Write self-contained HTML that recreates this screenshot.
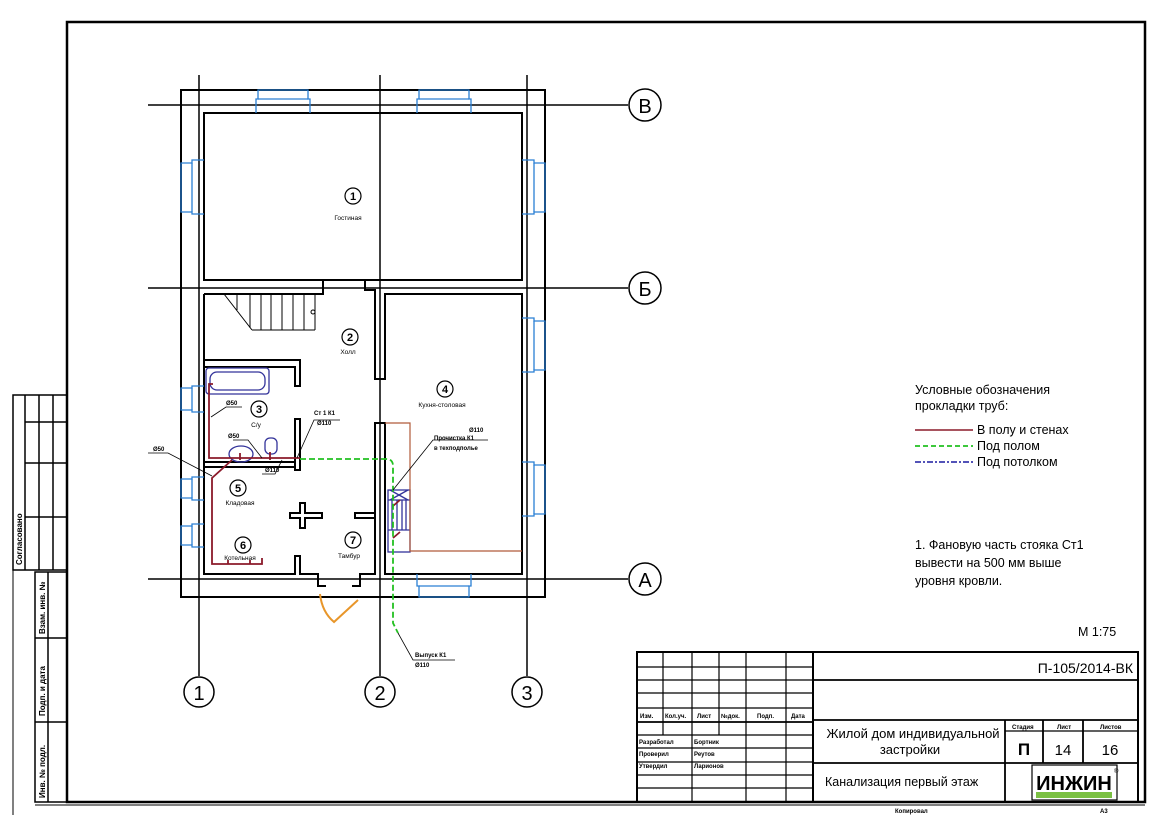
<!DOCTYPE html>
<html><head><meta charset="utf-8"><style>
html,body{margin:0;padding:0;background:#fff}
svg{display:block}
text{font-family:"Liberation Sans",sans-serif;fill:#000}
.b{font-weight:bold}
</style></head><body>
<svg width="1166" height="824" viewBox="0 0 1166 824" xmlns="http://www.w3.org/2000/svg">
<rect width="1166" height="824" fill="#fff"/>
<!-- frame -->
<rect x="67" y="22" width="1078" height="780" fill="none" stroke="#000" stroke-width="2.5"/>
<!-- left strip -->
<g stroke="#000" fill="none" stroke-width="1.5">
<rect x="13" y="395" width="54" height="175"/>
<line x1="25" y1="395" x2="25" y2="570"/><line x1="39" y1="395" x2="39" y2="570"/><line x1="53" y1="395" x2="53" y2="570"/>
<line x1="25" y1="422" x2="67" y2="422"/><line x1="25" y1="463" x2="67" y2="463"/><line x1="25" y1="517" x2="67" y2="517"/>
<rect x="35" y="572" width="32" height="230"/>
<line x1="48" y1="572" x2="48" y2="802"/>
<line x1="35" y1="638" x2="67" y2="638"/><line x1="35" y1="722" x2="67" y2="722"/>
<line x1="13" y1="570" x2="13" y2="815" stroke-width="1"/>
<line x1="35" y1="805" x2="1145" y2="805" stroke-width="1"/>
</g>
<g font-size="8" class="b">
<text transform="translate(22,565) rotate(-90)">Согласовано</text>
<text transform="translate(45,634) rotate(-90)">Взам. инв. №</text>
<text transform="translate(45,716) rotate(-90)">Подп. и дата</text>
<text transform="translate(45,798) rotate(-90)">Инв. № подл.</text>
</g>

<!-- axes -->
<g stroke="#000" stroke-width="1.5" fill="none">
<line x1="199" y1="75" x2="199" y2="676"/>
<line x1="380" y1="75" x2="380" y2="676"/>
<line x1="527" y1="75" x2="527" y2="676"/>
<line x1="148" y1="105" x2="628" y2="105"/>
<line x1="148" y1="288" x2="628" y2="288"/>
<line x1="148" y1="579" x2="628" y2="579"/>
<circle cx="199" cy="692" r="15"/><circle cx="380" cy="692" r="15"/><circle cx="527" cy="692" r="15"/>
<circle cx="645" cy="105" r="16"/><circle cx="645" cy="288" r="16"/><circle cx="645" cy="579" r="16"/>
</g>
<g font-size="20" text-anchor="middle">
<text x="199" y="700">1</text><text x="380" y="700">2</text><text x="527" y="700">3</text>
<text x="645" y="113">В</text><text x="645" y="296">Б</text><text x="645" y="587">А</text>
</g>

<!-- walls -->
<g stroke="#000" stroke-width="2" fill="none">
<rect x="181" y="90" width="364" height="507"/>
<rect x="204" y="113" width="318" height="167"/>
<!-- hall/stairs region -->
<path d="M204 294 H323 V280"/>
<path d="M365 280 V290 H375 V379 H385 V294 H522 V574 H385 V423 H375 V574 H360 V586 H352"/>
<path d="M204 294 V574 H295 V556 H300 V574 H318 V586 H326"/>
<!-- bathroom -->
<path d="M204 360 H300 V386 H295 V367 H204"/>
<path d="M295 419 H300 V470 H295 Z"/>
<path d="M204 462 H295 M204 467 H295"/>
<!-- cross -->
<path d="M290 513 H300 V503 H305 V513 H322 V518 H305 V528 H300 V518 H290 Z"/>
<path d="M355 513 H375 V518 H355 Z"/>
</g>
<!-- stairs -->
<g stroke="#000" stroke-width="1" fill="none">
<line x1="224" y1="294" x2="252" y2="330"/>
<line x1="252" y1="330" x2="315" y2="330"/>
<line x1="237" y1="294" x2="237" y2="310"/><line x1="250" y1="294" x2="250" y2="328"/>
<line x1="261" y1="294" x2="261" y2="330"/><line x1="271" y1="294" x2="271" y2="330"/>
<line x1="282" y1="294" x2="282" y2="330"/><line x1="293" y1="294" x2="293" y2="330"/>
<line x1="304" y1="294" x2="304" y2="330"/><line x1="315" y1="294" x2="315" y2="330"/>
<circle cx="313" cy="312" r="2"/>
</g>
<!-- windows -->
<g stroke="#2a7fd4" stroke-width="1.3" fill="none">
<path d="M256 113 V99 H258 V90 H308 V99 H310 V113"/><line x1="258" y1="99" x2="308" y2="99"/>
<path d="M417 113 V99 H419 V90 H469 V99 H471 V113"/><line x1="419" y1="99" x2="469" y2="99"/>
<path d="M204 160 H192 V163 H181 V212 H192 V214 H204"/><line x1="192" y1="163" x2="192" y2="212"/>
<path d="M522 160 H534 V163 H545 V212 H534 V214 H522"/><line x1="534" y1="163" x2="534" y2="212"/>
<path d="M522 318 H534 V321 H545 V370 H534 V372 H522"/><line x1="534" y1="321" x2="534" y2="370"/>
<path d="M522 462 H534 V465 H545 V514 H534 V516 H522"/><line x1="534" y1="465" x2="534" y2="514"/>
<path d="M204 386 H192 V388 H181 V410 H192 V412 H204"/><line x1="192" y1="388" x2="192" y2="410"/>
<path d="M204 477 H192 V479 H181 V498 H192 V500 H204"/><line x1="192" y1="479" x2="192" y2="498"/>
<path d="M204 524 H192 V526 H181 V545 H192 V547 H204"/><line x1="192" y1="526" x2="192" y2="545"/>
<path d="M417 574 V586 H419 V597 H469 V586 H471 V574"/><line x1="419" y1="586" x2="469" y2="586"/>
</g>
<!-- fixtures -->
<g stroke="#33339a" stroke-width="1.3" fill="none">
<rect x="206" y="368" width="63" height="26" rx="3"/>
<rect x="210" y="372" width="55" height="18" rx="7"/>
<ellipse cx="241" cy="454" rx="12" ry="8"/>
<rect x="265" y="438" width="12" height="16" rx="5"/>
<rect x="388" y="490" width="22" height="62"/>
<line x1="388" y1="500" x2="410" y2="500"/><line x1="388" y1="530" x2="410" y2="530"/>
<line x1="392" y1="500" x2="392" y2="530"/><line x1="397" y1="500" x2="397" y2="530"/><line x1="402" y1="500" x2="402" y2="530"/><line x1="406" y1="500" x2="406" y2="530"/>
<line x1="390" y1="490" x2="408" y2="500"/><line x1="408" y1="490" x2="390" y2="500"/>
</g>
<!-- kitchen counter -->
<path d="M385 423 H410 V551 H522" stroke="#b05a3a" stroke-width="1.2" fill="none"/>
<!-- door -->
<path d="M320 594 Q322 612 334 622 L358 600" stroke="#e8962a" stroke-width="2" fill="none"/>
<!-- red pipes -->
<g stroke="#8b1a2a" stroke-width="1.8" fill="none">
<path d="M213 384 H209 V458 H300"/>
<path d="M232 460 L212 478 V564 H262 V558"/>
<path d="M240 460 V453"/><path d="M270 460 V452"/>
<path d="M228 564 V560 M250 564 V560"/>
<path d="M400 500 L393 506"/><path d="M400 532 L393 538"/>
</g>
<!-- green -->
<path d="M300 459 H386 Q393 459 393 466 V623 L398 633" stroke="#22c020" stroke-width="1.8" stroke-dasharray="6,3" fill="none"/>
<!-- leaders -->
<g stroke="#000" stroke-width="0.8" fill="none">
<path d="M211 417 L226 407 H242"/>
<path d="M233 440 H248 L262 458"/>
<path d="M148 453 H168 L212 476"/>
<path d="M297 458 L314 420 H340"/>
<path d="M262 474 H275 L282 460"/>
<path d="M393 490 L433 440 H488"/>
<path d="M398 633 L413 660 H455"/>
</g>
<g font-size="6" class="b">
<text x="226" y="405">Ø50</text>
<text x="228" y="438">Ø50</text>
<text x="153" y="451">Ø50</text>
<text x="314" y="415">Ст 1 К1</text><text x="317" y="425">Ø110</text>
<text x="265" y="472">Ø110</text>
<text x="469" y="432">Ø110</text><text x="434" y="440">Прочистка К1</text><text x="434" y="450">в техподполье</text>
<text x="415" y="657">Выпуск К1</text><text x="415" y="667">Ø110</text>
</g>
<!-- room labels -->
<g stroke="#000" stroke-width="1.2" fill="none">
<circle cx="353" cy="196" r="8"/><circle cx="350" cy="337" r="8"/><circle cx="445" cy="389" r="8"/>
<circle cx="259" cy="409" r="8"/><circle cx="238" cy="488" r="8"/><circle cx="243" cy="545" r="8"/><circle cx="353" cy="540" r="8"/>
</g>
<g font-size="11" text-anchor="middle" class="b">
<text x="353" y="200">1</text><text x="350" y="341">2</text><text x="445" y="393">4</text>
<text x="259" y="413">3</text><text x="238" y="492">5</text><text x="243" y="549">6</text><text x="353" y="544">7</text>
</g>
<g font-size="6.5" text-anchor="middle">
<text x="348" y="220">Гостиная</text><text x="348" y="354">Холл</text><text x="442" y="407">Кухня-столовая</text>
<text x="256" y="427">С/у</text><text x="240" y="505">Кладовая</text><text x="240" y="560">Котельная</text><text x="349" y="558">Тамбур</text>
</g>

<!-- legend -->
<g font-size="12.5">
<text x="915" y="394">Условные обозначения</text>
<text x="915" y="410">прокладки труб:</text>
<text x="977" y="434">В полу и стенах</text>
<text x="977" y="450">Под полом</text>
<text x="977" y="466">Под потолком</text>
<text x="915" y="549">1. Фановую часть стояка Ст1</text>
<text x="915" y="567">вывести на 500 мм выше</text>
<text x="915" y="585">уровня кровли.</text>
<text x="1078" y="636">М 1:75</text>
</g>
<line x1="915" y1="430" x2="973" y2="430" stroke="#8b1a2a" stroke-width="1.5"/>
<line x1="915" y1="446" x2="973" y2="446" stroke="#22c020" stroke-width="1.8" stroke-dasharray="5,3"/>
<line x1="915" y1="462" x2="973" y2="462" stroke="#1a1aa0" stroke-width="1.5" stroke-dasharray="6,2,2,2"/>

<!-- title block -->
<g stroke="#000" stroke-width="1.2" fill="none">
<rect x="637" y="652" width="501" height="150" stroke-width="2"/>
<line x1="813" y1="652" x2="813" y2="802" stroke-width="2"/>
<line x1="663" y1="652" x2="663" y2="735"/><line x1="692" y1="652" x2="692" y2="802"/>
<line x1="719" y1="652" x2="719" y2="735"/><line x1="746" y1="652" x2="746" y2="802"/>
<line x1="786" y1="652" x2="786" y2="802"/>
<line x1="637" y1="667" x2="813" y2="667"/><line x1="637" y1="680" x2="813" y2="680"/>
<line x1="637" y1="693" x2="813" y2="693"/><line x1="637" y1="708" x2="813" y2="708"/>
<line x1="637" y1="722" x2="813" y2="722" stroke-width="1.8"/>
<line x1="637" y1="735" x2="813" y2="735"/><line x1="637" y1="748" x2="813" y2="748"/>
<line x1="637" y1="762" x2="813" y2="762"/><line x1="637" y1="775" x2="813" y2="775"/><line x1="637" y1="788" x2="813" y2="788"/>
<line x1="813" y1="680" x2="1138" y2="680" stroke-width="1.8"/>
<line x1="813" y1="720" x2="1138" y2="720" stroke-width="1.8"/>
<line x1="813" y1="763" x2="1138" y2="763" stroke-width="1.8"/>
<line x1="1005" y1="720" x2="1005" y2="802" stroke-width="1.8"/>
<line x1="1043" y1="720" x2="1043" y2="763" stroke-width="1.8"/>
<line x1="1083" y1="720" x2="1083" y2="763" stroke-width="1.8"/>
<line x1="1005" y1="731" x2="1138" y2="731"/>
<rect x="1032" y="765" width="85" height="35"/>
</g>
<g font-size="6" class="b">
<text x="640" y="718">Изм.</text><text x="665" y="718">Кол.уч.</text><text x="697" y="718">Лист</text><text x="721" y="718">№док.</text><text x="757" y="718">Подп.</text><text x="791" y="718">Дата</text>
<text x="639" y="744">Разработал</text><text x="694" y="744">Бортник</text>
<text x="639" y="756">Проверил</text><text x="694" y="756">Реутов</text>
<text x="639" y="768">Утвердил</text><text x="694" y="768">Ларионов</text>
<text x="1012" y="729">Стадия</text><text x="1057" y="729">Лист</text><text x="1100" y="729">Листов</text>
<text x="895" y="813">Копировал</text><text x="1100" y="813">А3</text>
</g>
<g font-size="14">
<text x="1133" y="673" text-anchor="end">П-105/2014-ВК</text>
<text x="913" y="738" text-anchor="middle" font-size="13">Жилой дом индивидуальной</text>
<text x="910" y="754" text-anchor="middle" font-size="13">застройки</text>
<text x="1024" y="755" text-anchor="middle" font-size="17" class="b">П</text>
<text x="1063" y="755" text-anchor="middle" font-size="15">14</text>
<text x="1110" y="755" text-anchor="middle" font-size="15">16</text>
<text x="825" y="786" font-size="12.5">Канализация первый этаж</text>
</g>
<text x="1074" y="790" font-size="20" text-anchor="middle" class="b" style="font-weight:900" fill="#000">ИНЖИН</text>
<rect x="1036" y="792" width="76" height="6" fill="#7bc043"/>
<text x="1114" y="773" font-size="6">®</text>
</svg>
</body></html>
